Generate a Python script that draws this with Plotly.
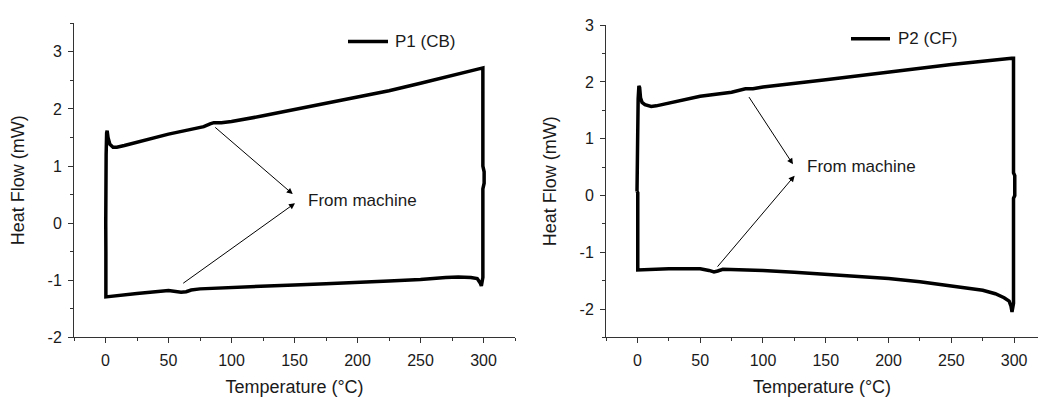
import plotly.graph_objects as go

# ---- data ----
temp_p1 = [0.2, 0.2, 0.5, 0.9, 1.3, 2.0, 3.5, 6, 9, 15, 25, 40, 50, 65, 78, 83, 86, 92, 100, 125, 150,
            175, 200, 225, 250, 275, 298, 299.5, 299.5, 300.5, 300.5, 299.5, 299.5, 299, 298.3, 297.5,
            295, 290, 280, 270, 250, 225, 200, 175, 150, 125, 100, 75, 68, 64, 60, 55, 50, 25, 10, 1,
            0.3, 0.3, 0.2]
heat_p1 = [0.0, 0.6, 1.2, 1.58, 1.62, 1.5, 1.38, 1.33, 1.33, 1.36, 1.42, 1.51, 1.56, 1.63, 1.69, 1.74,
           1.76, 1.76, 1.78, 1.88, 1.99, 2.09, 2.20, 2.32, 2.45, 2.58, 2.71, 2.72, 1.0, 0.9, 0.7, 0.6,
           -0.95, -1.08, -1.10, -1.05, -0.97, -0.95, -0.94, -0.95, -0.985, -1.01, -1.04, -1.06, -1.08,
           -1.10, -1.12, -1.15, -1.17, -1.20, -1.21, -1.19, -1.18, -1.23, -1.27, -1.29, -1.29, -0.5, 0.0]

temp_p2 = [-0.3, -0.3, 0.2, 0.6, 1.2, 1.8, 2.5, 3.7, 6, 11, 15, 25, 50, 75, 82, 86, 92, 100, 150, 200,
           250, 298, 299.5, 299.5, 300.5, 300.5, 299.5, 299.5, 299, 298.3, 297.5, 296, 292, 285, 275,
           250, 225, 200, 175, 150, 125, 100, 75, 68, 64, 61, 57, 50, 25, 10, 1, 0.3, 0.3, -0.3]
heat_p2 = [0.07, 0.5, 1.0, 1.7, 1.93, 1.9, 1.72, 1.64, 1.6, 1.57, 1.58, 1.63, 1.75, 1.82, 1.85, 1.88,
           1.88, 1.91, 2.04, 2.18, 2.31, 2.42, 2.42, 0.4, 0.35, 0.0, -0.05, -1.9, -2.04, -2.05, -1.95,
           -1.86, -1.80, -1.73, -1.67, -1.59, -1.52, -1.46, -1.42, -1.38, -1.35, -1.32, -1.30, -1.30,
           -1.33, -1.345, -1.32, -1.29, -1.29, -1.30, -1.31, -1.31, 0.05, 0.07]

series_names = ["P1 (CB)", "P2 (CF)"]
x_title = "Temperature (°C)"
y_title = "Heat Flow (mW)"
note_text = "From machine"

x_tickvals = [0, 50, 100, 150, 200, 250, 300]
x_ticktext = ["0", "50", "100", "150", "200", "250", "300"]
y1_tickvals = [-2, -1, 0, 1, 2, 3]
y1_ticktext = ["-2", "-1", "0", "1", "2", "3"]
y2_tickvals = [-2, -1, 0, 1, 2, 3]
y2_ticktext = ["-2", "-1", "0", "1", "2", "3"]

FONT = "Liberation Sans, Arial, sans-serif"
INK = "#1a1a1a"
AX = "#333333"

fig = go.Figure()
fig.add_trace(go.Scatter(x=temp_p1, y=heat_p1, mode="lines", name=series_names[0],
                         line=dict(color="black", width=3.5), showlegend=False,
                         xaxis="x", yaxis="y"))
fig.add_trace(go.Scatter(x=temp_p2, y=heat_p2, mode="lines", name=series_names[1],
                         line=dict(color="black", width=3.5), showlegend=False,
                         xaxis="x2", yaxis="y2"))

common_axis = dict(showline=True, linecolor=AX, linewidth=1, showgrid=False, zeroline=False,
                   ticks="outside", ticklen=5, tickwidth=1, tickcolor=AX, ticklabelstandoff=3,
                   tickfont=dict(family=FONT, size=16, color=INK))

xa = dict(common_axis, range=[-25, 325], tickmode="array", tickvals=x_tickvals, ticktext=x_ticktext,
          minor=dict(ticks="outside", ticklen=3, tickcolor=AX, dtick=25, tick0=0),
          title=dict(text=x_title, font=dict(family=FONT, size=18, color=INK), standoff=12))
fig.update_layout(
    width=1038, height=401,
    margin=dict(l=0, r=0, t=0, b=0),
    paper_bgcolor="white", plot_bgcolor="white",
    showlegend=False,
    xaxis=dict(xa, domain=[74 / 1038, 515 / 1038], anchor="y"),
    yaxis=dict(common_axis, range=[-2, 3.5], tickmode="array", tickvals=y1_tickvals,
               ticktext=y1_ticktext, anchor="x",
               domain=[(401 - 344) / 401, (401 - 16) / 401],
               minor=dict(ticks="outside", ticklen=3, tickcolor=AX, dtick=0.5, tick0=0),
               title=dict(text=y_title, font=dict(family=FONT, size=18, color=INK), standoff=18)),
    xaxis2=dict(xa, domain=[606 / 1038, 1.0], range=[-25, 319], anchor="y2"),
    yaxis2=dict(common_axis, range=[-2.5, 3], tickmode="array", tickvals=y2_tickvals,
                ticktext=y2_ticktext, anchor="x2",
                domain=[(401 - 344) / 401, (401 - 18) / 401],
                minor=dict(ticks="outside", ticklen=3, tickcolor=AX, dtick=0.5, tick0=0),
                title=dict(text=y_title, font=dict(family=FONT, size=18, color=INK), standoff=18)),
)

# manual legends (line sample + label)
legend_pos = [(348, 388, 35, 393), (851, 890, 32, 896)]
for (x0, x1, py, tx), name in zip(legend_pos, series_names):
    yp = (401 - py) / 401
    fig.add_shape(type="line", xref="paper", yref="paper", x0=x0 / 1038, x1=x1 / 1038, y0=yp, y1=yp,
                  line=dict(color="black", width=3.5))
    fig.add_annotation(xref="paper", yref="paper", x=tx / 1038, y=yp, text=name, showarrow=False,
                       xanchor="left", yanchor="middle",
                       font=dict(family=FONT, size=17, color=INK))

# arrows + notes
arrows = [
    ("x", "y", (85.9, 1.70), (148.6, 0.51)),
    ("x", "y", (60.5, -1.07), (150.4, 0.35)),
    ("x2", "y2", (88.1, 1.76), (123.9, 0.55)),
    ("x2", "y2", (62.8, -1.28), (125.2, 0.35)),
]
for xr, yr, tail, head in arrows:
    fig.add_annotation(xref=xr, yref=yr, axref=xr, ayref=yr, x=head[0], y=head[1],
                       ax=tail[0], ay=tail[1], text="", showarrow=True,
                       arrowhead=2, arrowsize=1.2, arrowwidth=1, arrowcolor="black")
notes = [("x", "y", 159, 0.39), ("x2", "y2", 133.2, 0.51)]
for xr, yr, nx, ny in notes:
    fig.add_annotation(xref=xr, yref=yr, x=nx, y=ny, text=note_text, showarrow=False,
                       xanchor="left", yanchor="middle",
                       font=dict(family=FONT, size=17, color=INK))

fig.write_html("out.html")
